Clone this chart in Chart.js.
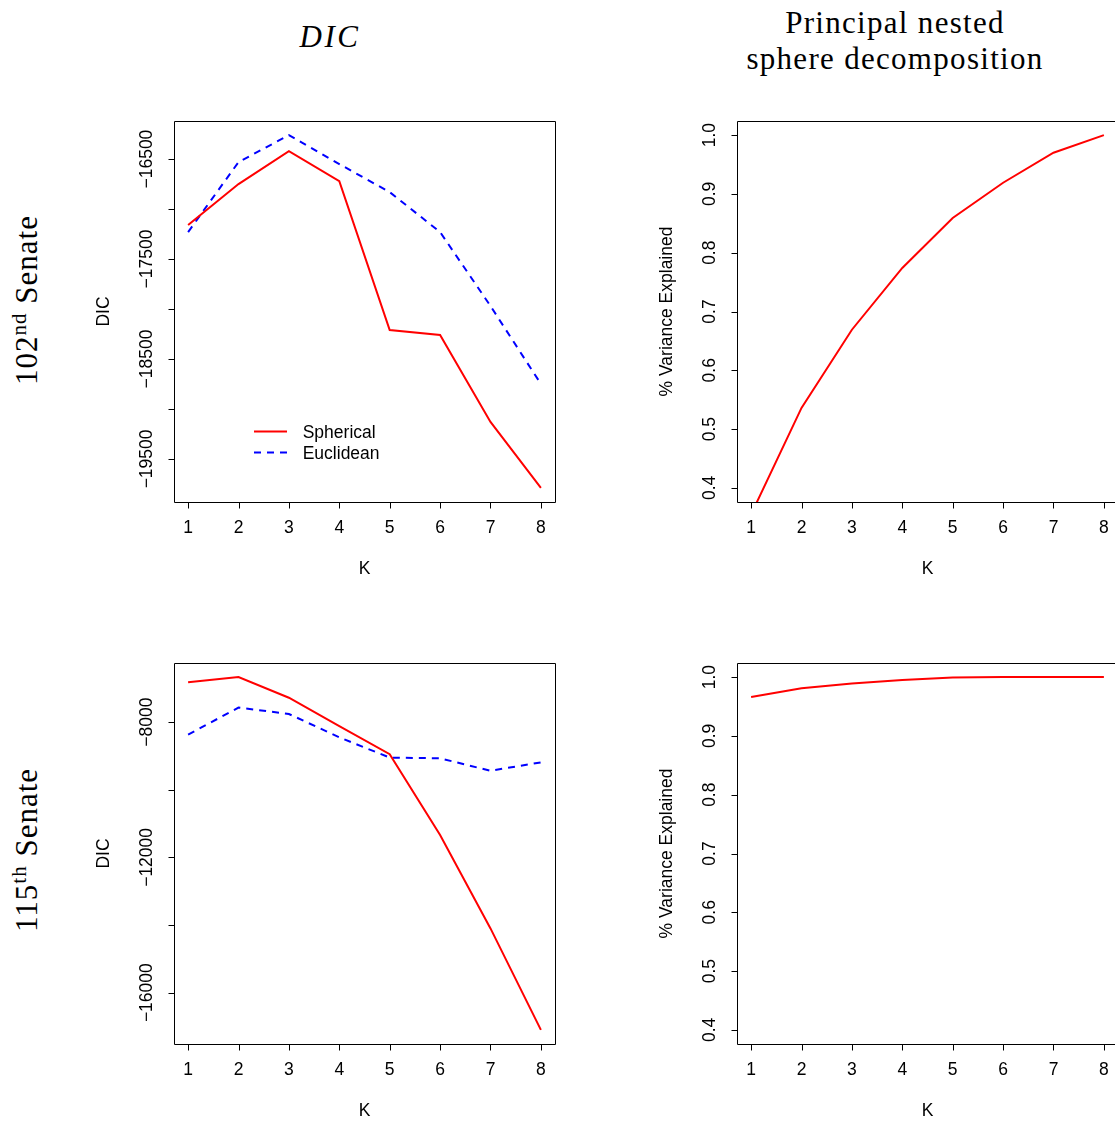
<!DOCTYPE html>
<html><head><meta charset="utf-8">
<script src="https://cdn.jsdelivr.net/npm/chart.js@4.4.0/dist/chart.umd.min.js"></script>
<style>
html,body{margin:0;padding:0;width:1115px;height:1124px;overflow:hidden;background:#fff;}
canvas{position:absolute;}
.t{position:absolute;font-family:"Liberation Serif","Times New Roman",serif;font-size:31px;line-height:30px;white-space:nowrap;color:#000;}
.r{transform:translate(-50%,-50%) rotate(-90deg);letter-spacing:1px;}
sup{font-size:0.68em;line-height:0;vertical-align:0.5em;}
</style></head><body>
<div class="t" style="left:230px;top:22px;width:200px;text-align:center;font-style:italic;letter-spacing:2.5px;">DIC</div>
<div class="t" style="left:745px;top:8px;width:300px;text-align:center;letter-spacing:1.3px;">Principal nested</div>
<div class="t" style="left:735px;top:44px;width:320px;text-align:center;letter-spacing:1.3px;">sphere decomposition</div>
<div class="t r" style="left:26.6px;top:300px;">102<sup>nd</sup> Senate</div>
<div class="t r" style="left:26.6px;top:850px;">115<sup>th</sup> Senate</div>
<canvas id="c1" width="501" height="492" style="left:74px;top:101px;"></canvas>
<canvas id="c2" width="501" height="492" style="left:637px;top:101px;"></canvas>
<canvas id="c3" width="501" height="492" style="left:74px;top:643px;"></canvas>
<canvas id="c4" width="501" height="492" style="left:637px;top:643px;"></canvas>
<script>
// ---- data ----
const K = [1, 2, 3, 4, 5, 6, 7, 8];
const dic102Spherical = [-17160, -16750, -16420, -16720, -18210, -18260, -19130, -19790];
const dic102Euclidean = [-17230, -16530, -16260, -16550, -16830, -17230, -17970, -18750];
const pnsVar102 = [0.355, 0.536, 0.669, 0.774, 0.859, 0.919, 0.970, 1.000];
const dic115Spherical = [-6820, -6670, -7280, -8120, -8950, -11340, -14100, -17100];
const dic115Euclidean = [-8370, -7570, -7760, -8450, -9050, -9070, -9440, -9190];
const pnsVar115 = [0.966, 0.981, 0.989, 0.995, 0.9995, 1.000, 1.000, 1.000];

const xTicks = [1, 2, 3, 4, 5, 6, 7, 8];
const xTickLabels = ['1', '2', '3', '4', '5', '6', '7', '8'];
const dic102Ticks = [-16500, -17000, -17500, -18000, -18500, -19000, -19500];
const dic102TickLabels = ['\u221216500', '', '\u221217500', '', '\u221218500', '', '\u221219500'];
const dic115Ticks = [-8000, -10000, -12000, -14000, -16000];
const dic115TickLabels = ['\u22128000', '', '\u221212000', '', '\u221216000'];
const varTicks = [0.4, 0.5, 0.6, 0.7, 0.8, 0.9, 1.0];
const varTickLabels = ['0.4', '0.5', '0.6', '0.7', '0.8', '0.9', '1.0'];
const varLimits = [0.4, 1.0];
const seriesNames = ['Spherical', 'Euclidean'];

// R-style range extension (4%)
function ext(lo, hi) { const d = (hi - lo) * 0.04; return [lo - d, hi + d]; }
function rangeOf(...arrs) { const all = [].concat(...arrs); return ext(Math.min(...all), Math.max(...all)); }

const SANS = '17.5px "Liberation Sans", Arial, Helvetica, sans-serif';

const rAxes = {
  id: 'rAxes',
  afterDraw(chart, args, o) {
    const ctx = chart.ctx, a = chart.chartArea, x = chart.scales.x, y = chart.scales.y;
    ctx.save();
    ctx.strokeStyle = '#000'; ctx.lineWidth = 1;
    const L = Math.round(a.left) + 0.5, T = Math.round(a.top) + 0.5;
    const R = Math.round(a.right) + 0.5, B = Math.round(a.bottom) + 0.5;
    ctx.beginPath();
    ctx.rect(L, T, R - L, B - T);
    o.xTicks.forEach(v => { const p = Math.round(x.getPixelForValue(v)) + 0.5; ctx.moveTo(p, B); ctx.lineTo(p, B + 6); });
    o.yTicks.forEach(v => { const p = Math.round(y.getPixelForValue(v)) + 0.5; ctx.moveTo(L, p); ctx.lineTo(L - 6, p); });
    ctx.stroke();
    ctx.fillStyle = '#000'; ctx.font = SANS; ctx.textAlign = 'center'; ctx.textBaseline = 'alphabetic';
    o.xTicks.forEach((v, i) => ctx.fillText(o.xLabels[i], x.getPixelForValue(v), a.bottom + 30.5));
    o.yTicks.forEach((v, i) => {
      if (!o.yLabels[i]) return;
      ctx.save(); ctx.translate(a.left - 22.2, y.getPixelForValue(v)); ctx.rotate(-Math.PI / 2);
      ctx.fillText(o.yLabels[i], 0, 0); ctx.restore();
    });
    ctx.fillText(o.xTitle, (a.left + a.right) / 2, a.bottom + 72);
    ctx.save(); ctx.translate(a.left - 65, (a.top + a.bottom) / 2); ctx.rotate(-Math.PI / 2);
    ctx.fillText(o.yTitle, 0, 0); ctx.restore();
    if (o.legend) {
      chart.data.datasets.forEach((ds, i) => {
        const ly = Math.round(a.top + 310 + 21 * i) + 0.5;
        ctx.save();
        ctx.strokeStyle = ds.borderColor; ctx.lineWidth = ds.borderWidth;
        ctx.setLineDash(ds.borderDash || []);
        ctx.beginPath(); ctx.moveTo(a.left + 80, ly); ctx.lineTo(a.left + 113, ly); ctx.stroke();
        ctx.restore();
        ctx.textAlign = 'left';
        ctx.fillText(ds.label, a.left + 128.7, ly + 6.2);
      });
    }
    ctx.restore();
  }
};

function pts(vals) { return K.map((k, i) => ({ x: k, y: vals[i] })); }
const red = { borderColor: '#FF0000', borderWidth: 2, pointRadius: 0, tension: 0, clip: 0, fill: false };
const blue = { borderColor: '#0000FF', borderWidth: 2, borderDash: [7, 6], pointRadius: 0, tension: 0, clip: 0, fill: false };
const xr = ext(1, 8);

function make(id, datasets, yr, axes) {
  new Chart(document.getElementById(id), {
    type: 'line',
    data: { datasets },
    options: {
      responsive: false, animation: false, devicePixelRatio: 1,
      layout: { padding: { left: 100, top: 20, right: 20, bottom: 91 } },
      scales: {
        x: { type: 'linear', min: xr[0], max: xr[1], display: false },
        y: { type: 'linear', min: yr[0], max: yr[1], display: false }
      },
      plugins: { legend: { display: false }, tooltip: { enabled: false }, rAxes: axes },
      events: []
    },
    plugins: [rAxes]
  });
}

make('c1', [
  Object.assign({ label: seriesNames[0], data: pts(dic102Spherical) }, red),
  Object.assign({ label: seriesNames[1], data: pts(dic102Euclidean) }, blue)
], rangeOf(dic102Spherical, dic102Euclidean),
  { xTicks, xLabels: xTickLabels, yTicks: dic102Ticks, yLabels: dic102TickLabels, xTitle: 'K', yTitle: 'DIC', legend: true });

make('c2', [
  Object.assign({ label: 'PNS', data: pts(pnsVar102) }, red)
], ext(varLimits[0], varLimits[1]),
  { xTicks, xLabels: xTickLabels, yTicks: varTicks, yLabels: varTickLabels, xTitle: 'K', yTitle: '% Variance Explained', legend: false });

make('c3', [
  Object.assign({ label: seriesNames[0], data: pts(dic115Spherical) }, red),
  Object.assign({ label: seriesNames[1], data: pts(dic115Euclidean) }, blue)
], rangeOf(dic115Spherical, dic115Euclidean),
  { xTicks, xLabels: xTickLabels, yTicks: dic115Ticks, yLabels: dic115TickLabels, xTitle: 'K', yTitle: 'DIC', legend: false });

make('c4', [
  Object.assign({ label: 'PNS', data: pts(pnsVar115) }, red)
], ext(varLimits[0], varLimits[1]),
  { xTicks, xLabels: xTickLabels, yTicks: varTicks, yLabels: varTickLabels, xTitle: 'K', yTitle: '% Variance Explained', legend: false });
</script>
</body></html>
